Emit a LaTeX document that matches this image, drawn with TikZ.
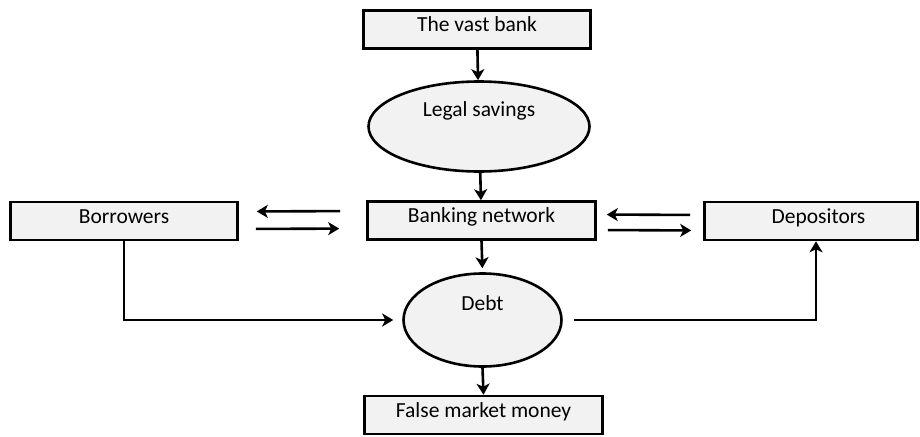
\documentclass[tikz,border=0pt]{standalone}
\usepackage{fontspec}
\setmainfont{Carlito}
\usetikzlibrary{shapes.geometric, arrows.meta}
\definecolor{boxgray}{HTML}{F2F2F2}
\def\fs{\fontsize{21.5}{25}\selectfont}

\begin{document}
\begin{tikzpicture}[x=1pt, y=-1pt,
    box/.style={draw, line width=2.6pt, fill=boxgray, inner sep=0pt, minimum height=38pt,
      text height=10pt, text depth=6pt, font=\fs},
    oval/.style={ellipse, draw, line width=2.6pt, fill=boxgray, inner sep=0pt,
      text height=10pt, text depth=30pt, font=\fs},
    arr/.style={line width=2.6pt, -{Stealth[length=11pt, width=13pt, inset=3pt]}}]
        \useasboundingbox (0,0) rectangle (920,436);
        \node[box, minimum width=227pt] (bank) at (477,29.5) {The vast bank};
        \node[oval, minimum width=221pt, minimum height=90pt] (sav) at (479,126.5) {Legal savings};
        \node[box, minimum width=228pt] (net) at (481.5,220.5) {Banking network};
        \node[box, minimum width=227pt] (bor) at (124,221) {Borrowers};
        \node[box, minimum width=213pt] (dep) at (811,221) {\hspace*{15pt}Depositors};
        \node[oval, minimum width=158pt, minimum height=93pt] (debt) at (482.5,320) {Debt};
        \node[box, minimum width=238pt] (fmm) at (483.5,415) {False market money};
        \draw[arr] (bank) -- (sav);
        \draw[arr] (sav) -- (net);
        \draw[arr, shorten >=4pt] (net.south) -- (debt.north);
        \draw[arr] (debt.south) -- (fmm.north);
        \draw[arr, shorten <=26pt, shorten >=18pt] ([yshift=9.5pt]net.west) -- ([yshift=9.5pt]bor.east);
        \draw[arr, shorten <=17pt, shorten >=27pt] ([yshift=-8pt]bor.east) -- ([yshift=-8pt]net.west);
        \draw[arr, shorten <=13pt, shorten >=10pt] ([yshift=6pt]dep.west) -- ([yshift=6pt]net.east);
        \draw[arr, shorten <=11pt, shorten >=12pt] ([yshift=-9.5pt]net.east) -- ([yshift=-9.5pt]dep.west);
        \draw[arr, shorten >=9pt] (bor.south) |- (debt.west);
        \draw[arr, shorten <=11pt] (debt.east) -| ([xshift=5pt]dep.south);
      \end{tikzpicture}
\end{document}
